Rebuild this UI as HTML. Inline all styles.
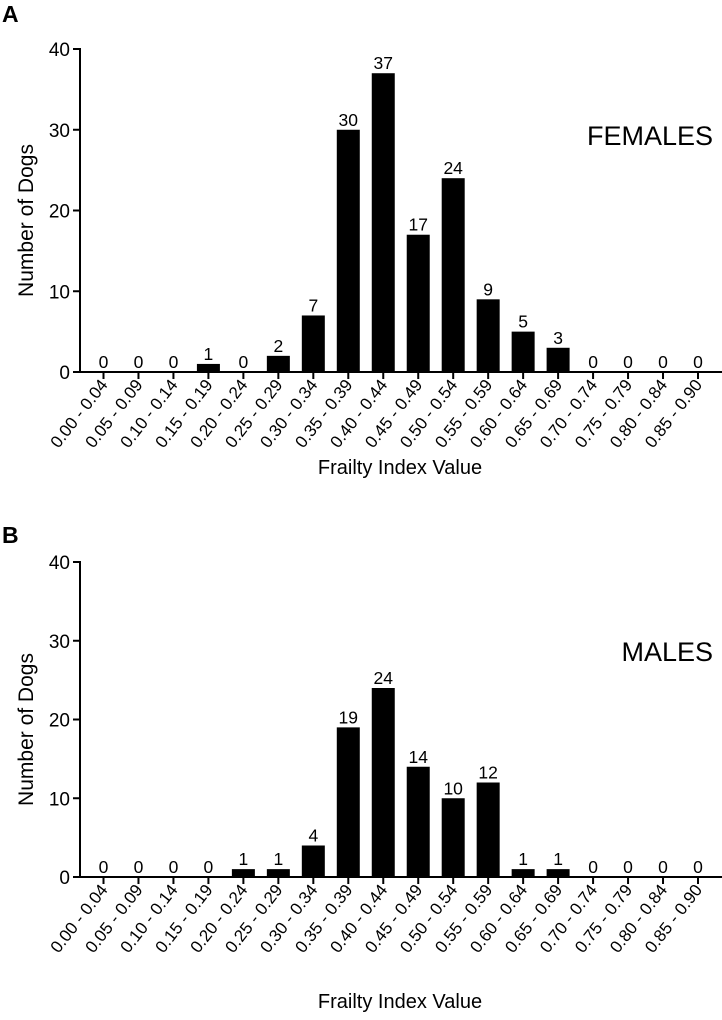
<!DOCTYPE html>
<html><head><meta charset="utf-8"><style>
body{margin:0;background:#fff;}
svg text{font-family:"Liberation Sans",Arial,sans-serif;fill:#000;}
</style></head><body>
<svg id="chart" width="722" height="1015" viewBox="0 0 722 1015" xmlns="http://www.w3.org/2000/svg"></svg>
<script>
const categories=["0.00 - 0.04","0.05 - 0.09","0.10 - 0.14","0.15 - 0.19","0.20 - 0.24","0.25 - 0.29","0.30 - 0.34","0.35 - 0.39","0.40 - 0.44","0.45 - 0.49","0.50 - 0.54","0.55 - 0.59","0.60 - 0.64","0.65 - 0.69","0.70 - 0.74","0.75 - 0.79","0.80 - 0.84","0.85 - 0.90"];
const femaleCounts=[0,0,0,1,0,2,7,30,37,17,24,9,5,3,0,0,0,0];
const maleCounts=[0,0,0,0,1,1,4,19,24,14,10,12,1,1,0,0,0,0];
const yTicks=[0,10,20,30,40];
const NS="http://www.w3.org/2000/svg";
const svg=document.getElementById('chart');
function mk(tag,attrs,parent){const e=document.createElementNS(NS,tag);for(const k in attrs)e.setAttribute(k,attrs[k]);(parent||svg).appendChild(e);return e;}
function panel(letter,label,counts,y0,y40,letterY,titleY,sexY,key){
  const g=mk('g',{});
  
  
  const ax=80,x0=103.5,step=34.97,bw=23,yMax=40;
  const xS=i=>x0+i*step;
  const yS=v=>y0-(v/yMax)*(y0-y40);
  const L=mk('text',{x:2,y:letterY,'font-size':23,'font-weight':'bold'},g);L.textContent=letter;
  
  
  const yl=mk('line',{x1:ax,y1:y40-1,x2:ax,y2:y0+1,stroke:'#000','stroke-width':2},g);
  
  
  const xl=mk('line',{x1:ax-1,y1:y0,x2:722,y2:y0,stroke:'#000','stroke-width':2},g);
  
  
  yTicks.forEach(t=>{
    const y=yS(t);
    mk('line',{x1:ax-7,y1:y,x2:ax,y2:y,stroke:'#000','stroke-width':2},g);
    const tx=mk('text',{x:ax-10,y:y+7,'font-size':19,'text-anchor':'end'},g);tx.textContent=t;
    
    
  });
  counts.forEach((c,i)=>{
    const x=xS(i);
    mk('line',{x1:x,y1:y0,x2:x,y2:y0+7,stroke:'#000','stroke-width':2},g);
    if(c>0){
      const r=mk('rect',{x:x-bw/2,y:yS(c),width:bw,height:y0-yS(c),fill:'#000'},g);
      
      
    }
    const v=mk('text',{x:x,y:yS(c)-4,'font-size':17.5,'text-anchor':'middle'},g);v.textContent=c;
    
    
    const tl=mk('text',{x:x+5,y:y0+13,'font-size':17,'text-anchor':'end',transform:`rotate(-52 ${x+5} ${y0+13})`},g);tl.textContent=categories[i];
    
    
  });
  const yt=mk('text',{x:0,y:0,'font-size':21,'text-anchor':'middle',transform:`translate(33 ${(y0+y40)/2+10}) rotate(-90)`},g);yt.textContent='Number of Dogs';
  
  
  const xt=mk('text',{x:400,y:titleY,'font-size':20,'text-anchor':'middle'},g);xt.textContent='Frailty Index Value';
  
  
  const st=mk('text',{x:713,y:sexY,'font-size':27,'text-anchor':'end'},g);st.textContent=label;
  
  
}
panel('A','FEMALES',femaleCounts,372,49,22,474,145,'females');
panel('B','MALES',maleCounts,877,562,543,1008,661,'males');
</script>
</body></html>
